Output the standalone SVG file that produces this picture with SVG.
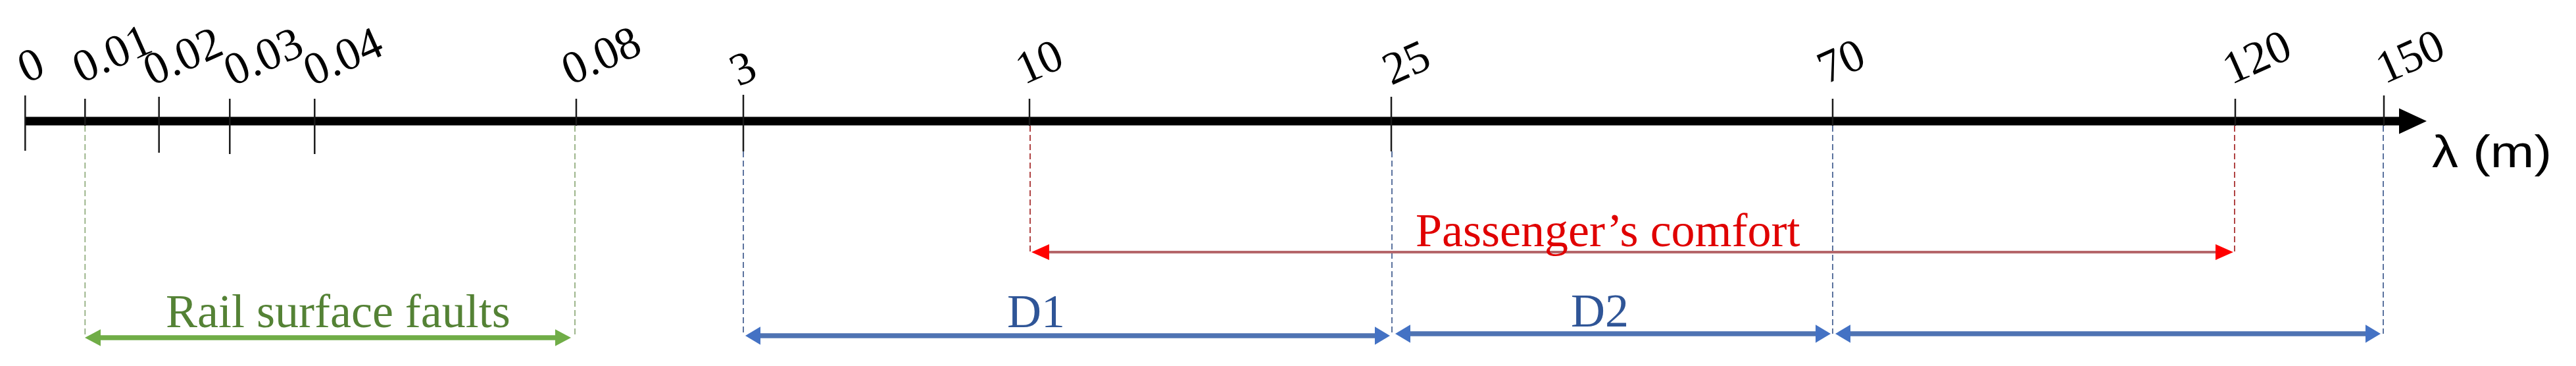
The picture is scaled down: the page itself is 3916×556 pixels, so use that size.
<svg xmlns="http://www.w3.org/2000/svg" width="3916" height="556" viewBox="0 0 3916 556">
  <style>
    .tick { stroke: #1a1a1a; stroke-width: 2.5; fill: none; }
    .tl { font-family: "Liberation Serif", "Times New Roman", serif; font-size: 70px; fill: #000; }
    .big { font-family: "Liberation Serif", "Times New Roman", serif; font-size: 72px; }
    .guide { fill: none; stroke-width: 1.8; stroke-dasharray: 9 5; }
    .g-green { stroke: #93AE80; }
    .g-blue { stroke: #4A6494; }
    .g-red { stroke: #A83030; }
    .rng { fill: none; stroke-linecap: butt; }
  </style>
  <defs>
    <marker id="hGreen" markerUnits="userSpaceOnUse" orient="auto-start-reverse" refX="1" refY="0" markerWidth="30" markerHeight="30" overflow="visible">
      <path d="M0,-12.75 L24,0 L0,12.75 Z" fill="#70AD47"/>
    </marker>
    <marker id="hBlue" markerUnits="userSpaceOnUse" orient="auto-start-reverse" refX="1" refY="0" markerWidth="30" markerHeight="30" overflow="visible">
      <path d="M0,-13.8 L23,0 L0,13.8 Z" fill="#4472C4"/>
    </marker>
    <marker id="hRed" markerUnits="userSpaceOnUse" orient="auto-start-reverse" refX="1" refY="0" markerWidth="30" markerHeight="30" overflow="visible">
      <path d="M0,-12 L27,0 L0,12 Z" fill="#FF0000"/>
    </marker>
  </defs>

  <rect width="3916" height="556" fill="#ffffff"/>

  <!-- axis -->
  <g id="axis">
    <line x1="38" y1="184" x2="3650" y2="184" stroke="#000" stroke-width="13"/>
    <polygon points="3647,164.5 3689,184 3647,203.5" fill="#000"/>
    <text x="3697" y="254" font-family="'Liberation Sans', Arial, sans-serif" font-size="68" textLength="182" lengthAdjust="spacingAndGlyphs" fill="#000">λ (m)</text>
  </g>

  <!-- ticks -->
  <g id="ticks">
    <line class="tick" x1="38.3" y1="145" x2="38.3" y2="229"/>
    <line class="tick" x1="129.3" y1="150" x2="129.3" y2="191"/>
    <line class="tick" x1="241.7" y1="147" x2="241.7" y2="232"/>
    <line class="tick" x1="349.3" y1="150" x2="349.3" y2="234"/>
    <line class="tick" x1="478.3" y1="150" x2="478.3" y2="234"/>
    <line class="tick" x1="876" y1="150" x2="876" y2="191"/>
    <line class="tick" x1="1130" y1="144" x2="1130" y2="230"/>
    <line class="tick" x1="1565" y1="150" x2="1565" y2="191"/>
    <line class="tick" x1="2115" y1="147" x2="2115" y2="230"/>
    <line class="tick" x1="2786" y1="150" x2="2786" y2="191"/>
    <line class="tick" x1="3398" y1="150" x2="3398" y2="191"/>
    <line class="tick" x1="3624" y1="145" x2="3624" y2="191"/>
  </g>

  <!-- tick labels -->
  <g id="tick-labels">
    <text class="tl" transform="translate(40,127) rotate(-24)">0</text>
    <text class="tl" transform="translate(123.6,127) rotate(-24)">0.01</text>
    <text class="tl" transform="translate(231,131) rotate(-24)">0.02</text>
    <text class="tl" transform="translate(353.6,131.6) rotate(-24)">0.03</text>
    <text class="tl" transform="translate(474.6,131.6) rotate(-24)">0.04</text>
    <text class="tl" transform="translate(867,130) rotate(-24)">0.08</text>
    <text class="tl" transform="translate(1122.4,132) rotate(-24)">3</text>
    <text class="tl" transform="translate(1557,129) rotate(-24)">10</text>
    <text class="tl" transform="translate(2115,130) rotate(-24)">25</text>
    <text class="tl" transform="translate(2776,128) rotate(-24)">70</text>
    <text class="tl" transform="translate(3392,129) rotate(-24)">120</text>
    <text class="tl" transform="translate(3625,128) rotate(-24)">150</text>
  </g>

  <!-- connectors: guide lines and range arrows -->
  <g id="connectors">
    <line class="guide g-green" x1="129.3" y1="191" x2="129.3" y2="513"/>
    <line class="guide g-green" x1="874" y1="191" x2="874" y2="513"/>
    <line class="guide g-blue" x1="1130" y1="230" x2="1130" y2="510"/>
    <line class="guide g-blue" x1="2116" y1="230" x2="2116" y2="508"/>
    <line class="guide g-blue" x1="2786" y1="191" x2="2786" y2="507"/>
    <line class="guide g-blue" x1="3623" y1="191" x2="3623" y2="507"/>
    <line class="guide g-red" x1="1566" y1="191" x2="1566" y2="383"/>
    <line class="guide g-red" x1="3397" y1="191" x2="3397" y2="383"/>

    <line id="arrow-rail" class="rng" x1="152" y1="513" x2="845" y2="513" stroke="#70AD47" stroke-width="7.5" marker-start="url(#hGreen)" marker-end="url(#hGreen)"/>
    <line id="arrow-comfort" class="rng" x1="1594" y1="383" x2="3369" y2="383" stroke="#B5666A" stroke-width="4" marker-start="url(#hRed)" marker-end="url(#hRed)"/>
    <line id="arrow-d1" class="rng" x1="1155" y1="510" x2="2091" y2="510" stroke="#4F73B3" stroke-width="7.5" marker-start="url(#hBlue)" marker-end="url(#hBlue)"/>
    <line id="arrow-d2" class="rng" x1="2143" y1="507" x2="2761" y2="507" stroke="#4F73B3" stroke-width="7.5" marker-start="url(#hBlue)" marker-end="url(#hBlue)"/>
    <line id="arrow-d3" class="rng" x1="2812" y1="507" x2="3597" y2="507" stroke="#4F73B3" stroke-width="7.5" marker-start="url(#hBlue)" marker-end="url(#hBlue)"/>
  </g>

  <!-- range labels -->
  <g id="label-rail">
    <text class="big" x="252" y="497" fill="#548235">Rail surface faults</text>
  </g>
  <g id="label-comfort">
    <text class="big" x="2152" y="374" fill="#E00000">Passenger’s comfort</text>
  </g>
  <g id="label-d1">
    <text class="big" x="1531" y="497" fill="#2F5597">D1</text>
  </g>
  <g id="label-d2">
    <text class="big" x="2388" y="496" fill="#2F5597">D2</text>
  </g>
</svg>
